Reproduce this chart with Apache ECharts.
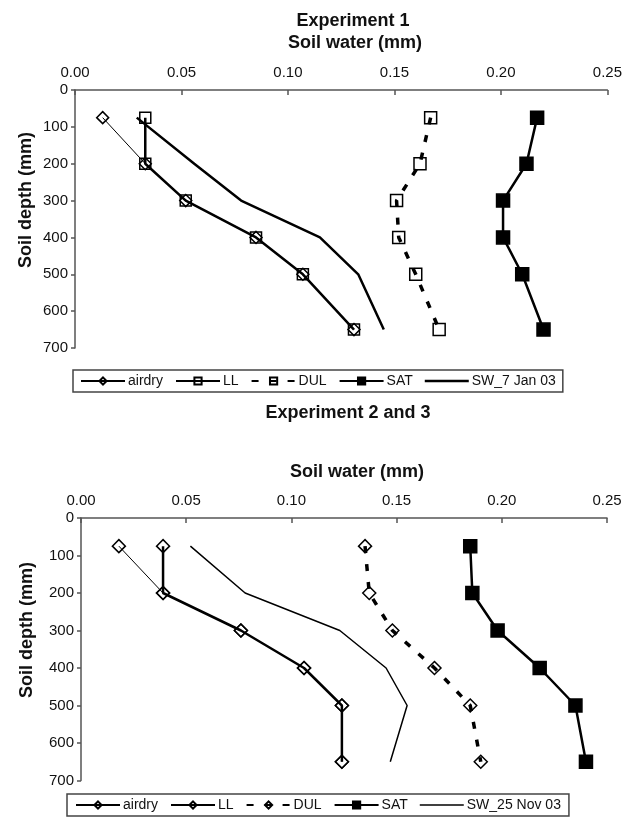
<!DOCTYPE html>
<html>
<head>
<meta charset="utf-8">
<script src="https://cdn.jsdelivr.net/npm/echarts@6/dist/echarts.min.js"></script>
<style>
html,body{margin:0;padding:0;background:#fff;}
#c{width:625px;height:820px;}
</style>
</head>
<body>
<div id="c"></div>
<script>
// ---- data ----
var depths = [75, 200, 300, 400, 500, 650];
var yTicks = [0, 100, 200, 300, 400, 500, 600, 700];
var xTicks = [0.00, 0.05, 0.10, 0.15, 0.20, 0.25];

var exp1_airdry = [0.013, 0.033, 0.052, 0.085, 0.107, 0.131];
var exp1_LL     = [0.033, 0.033, 0.052, 0.085, 0.107, 0.131];
var exp1_DUL    = [0.167, 0.162, 0.151, 0.152, 0.160, 0.171];
var exp1_SAT    = [0.217, 0.212, 0.201, 0.201, 0.210, 0.220];
var exp1_SW     = [0.029, 0.056, 0.078, 0.115, 0.133, 0.145];

var exp2_airdry = [0.018, 0.039, 0.076, 0.106, 0.124, 0.124];
var exp2_LL     = [0.039, 0.039, 0.076, 0.106, 0.124, 0.124];
var exp2_DUL    = [0.135, 0.137, 0.148, 0.168, 0.185, 0.190];
var exp2_SAT    = [0.185, 0.186, 0.198, 0.218, 0.235, 0.240];
var exp2_SW     = [0.052, 0.078, 0.123, 0.145, 0.155, 0.147];

var names1 = ['airdry', 'LL', 'DUL', 'SAT', 'SW_7 Jan 03'];
var names2 = ['airdry', 'LL', 'DUL', 'SAT', 'SW_25 Nov 03'];
var ZW = '\u200B';

function pairs(xs) { return xs.map(function (v, i) { return [v, depths[i]]; }); }

var FONT = 'Liberation Sans, Arial, sans-serif';
var TXT = '#111';
var AX = '#555';
var OPEN = 'rgba(255,255,255,0)';

function xAxisDef(gi) {
  return {
    gridIndex: gi, type: 'value', position: 'top', min: 0, max: 0.25, interval: 0.05,
    axisLine: { show: true, lineStyle: { color: AX, width: 1.5 } },
    axisTick: { show: true, inside: true, length: 5, lineStyle: { color: AX, width: 1.5 } },
    axisLabel: { fontFamily: FONT, fontSize: 15, color: TXT, margin: 10,
      formatter: function (v) { return v.toFixed(2); } },
    splitLine: { show: false }
  };
}
function yAxisDef(gi) {
  return {
    gridIndex: gi, type: 'value', inverse: true, min: 0, max: 700, interval: 100,
    axisLine: { show: true, lineStyle: { color: AX, width: 1.5 } },
    axisTick: { show: true, inside: false, length: 4, lineStyle: { color: AX, width: 1.5 } },
    axisLabel: { fontFamily: FONT, fontSize: 15, color: TXT, margin: 7 },
    splitLine: { show: false }
  };
}

function mk(name, gi, vals, opt) {
  return {
    name: name, type: 'line', xAxisIndex: gi, yAxisIndex: gi, data: pairs(vals),
    symbol: opt.symbol, symbolSize: opt.size, showSymbol: opt.symbol !== 'none',
    itemStyle: { color: opt.fill, borderColor: '#000', borderWidth: opt.bw || 1.5 },
    lineStyle: { color: '#000', width: opt.lw, type: opt.dash || 'solid', cap: 'butt' },
    animation: false, z: opt.z || 2
  };
}

var series = [
  mk(names1[0], 0, exp1_airdry, { symbol: 'diamond', size: 12, fill: OPEN, lw: 1 }),
  mk(names1[1], 0, exp1_LL, { symbol: 'rect', size: 11, fill: OPEN, lw: 2.5 }),
  mk(names1[2], 0, exp1_DUL, { symbol: 'rect', size: 12, fill: OPEN, lw: 3.5, dash: [7, 11] }),
  mk(names1[3], 0, exp1_SAT, { symbol: 'rect', size: 13, fill: '#000', lw: 2.5 }),
  mk(names1[4], 0, exp1_SW, { symbol: 'none', size: 0, fill: '#000', lw: 2.5 }),

  mk(names2[0] + ZW, 1, exp2_airdry, { symbol: 'diamond', size: 13, fill: OPEN, lw: 1 }),
  mk(names2[1] + ZW, 1, exp2_LL, { symbol: 'diamond', size: 13, fill: OPEN, lw: 2.5 }),
  mk(names2[2] + ZW, 1, exp2_DUL, { symbol: 'diamond', size: 13, fill: OPEN, lw: 3.5, dash: [7, 11] }),
  mk(names2[3] + ZW, 1, exp2_SAT, { symbol: 'rect', size: 13, fill: '#000', lw: 2.5 }),
  mk(names2[4], 1, exp2_SW, { symbol: 'none', size: 0, fill: '#000', lw: 1.5 })
];

function legendDef(names, left, top, suffix, swWidth, pad) {
  return {
    left: left, top: top, orient: 'horizontal',
    data: names.map(function (n, i) {
      if (i < 4) return { name: n + suffix };
      return { name: n, icon: 'path://M0 0H46V' + swWidth + 'H0Z',
               itemStyle: { color: '#000', borderWidth: 0 } };
    }),
    formatter: function (n) { return n.replace(ZW, ''); },
    itemWidth: 44, itemHeight: 9, itemGap: 12,
    padding: [4, pad, 4, pad],
    borderColor: '#444', borderWidth: 1.5, borderRadius: 0,
    textStyle: { fontFamily: FONT, fontSize: 14, color: TXT, padding: [0, 0, 0, -2] },
    selectedMode: false
  };
}

function label(txt, x, y, rot) {
  return {
    type: 'text', x: x, y: y, rotation: rot || 0,
    style: { text: txt, font: 'bold 18px ' + FONT, fill: TXT, align: 'center', verticalAlign: 'middle' }
  };
}

var option = {
  backgroundColor: '#fff',
  animation: false,
  grid: [
    { left: 75, top: 90, width: 535, height: 258, containLabel: false },
    { left: 81, top: 518, width: 526, height: 262.5, containLabel: false }
  ],
  xAxis: [xAxisDef(0), xAxisDef(1)],
  yAxis: [yAxisDef(0), yAxisDef(1)],
  legend: [legendDef(names1, 73, 370, '', 2.5, 7), legendDef(names2, 67, 794, ZW, 1.5, 8)],
  graphic: [
    label('Experiment 1', 353, 21),
    label('Soil water (mm)', 355, 43),
    label('Soil depth (mm)', 26, 200, Math.PI / 2),
    label('Experiment 2 and 3', 348, 413),
    label('Soil water (mm)', 357, 472),
    label('Soil depth (mm)', 27, 630, Math.PI / 2)
  ],
  series: series
};

var chart = echarts.init(document.getElementById('c'), null, { renderer: 'canvas' });
chart.setOption(option);
</script>
</body>
</html>
